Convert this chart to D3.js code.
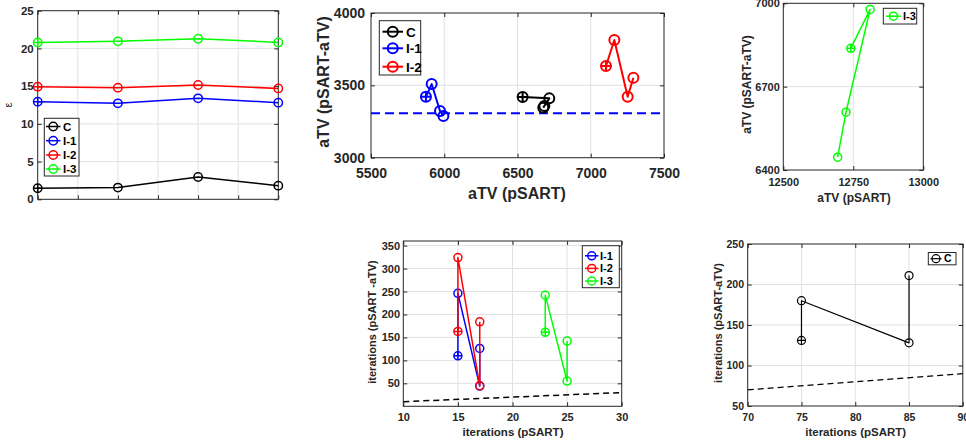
<!DOCTYPE html>
<html>
<head>
<meta charset="utf-8">
<script src="https://cdn.jsdelivr.net/npm/d3@7"></script>
<style>
  body { margin: 0; background: #fff; }
  svg { display: block; font-family: "Liberation Sans", Arial, Helvetica, sans-serif; }
</style>
</head>
<body>
<div id="chart"></div>
<script>
// ---- data ----

// top-left: epsilon per run
const runIdx = [1, 2, 3, 4];
const epsC  = [1.46, 1.55, 2.96, 1.81];
const epsI1 = [12.94, 12.72, 13.38, 12.81];
const epsI2 = [14.93, 14.80, 15.15, 14.70];
const epsI3 = [20.80, 20.94, 21.29, 20.80];

// top-middle / top-right: aTV (pSART) vs aTV (pSART-aTV)
const atvPsartC  = [6535, 6717, 6683, 6676];
const atvHybC    = [3419, 3410, 3357, 3346];
const atvPsartI1 = [5875, 5914, 5971, 5994];
const atvHybI1   = [3421, 3509, 3323, 3288];
const atvPsartI2 = [7104, 7161, 7252, 7291];
const atvHybI2   = [3634, 3813, 3421, 3553];
const atvPsartI3 = [12741, 12810, 12724, 12694];
const atvHybI3   = [6838, 6978, 6608, 6446];
const atvRefLevel = 3307;

// bottom: iterations (pSART) vs iterations (pSART-aTV)
const itPsartI1 = [15, 15, 17, 17];
const itHybI1   = [110, 246, 44, 126];
const itPsartI2 = [15, 15, 17, 17];
const itHybI2   = [163, 324, 45, 184];
const itPsartI3 = [23, 23, 25, 25];
const itHybI3   = [161, 242, 55, 142];
const itPsartC  = [75, 75, 85, 85];
const itHybC    = [131, 180, 128, 211];

const colC = '#000000', colI1 = '#0000ff', colI2 = '#ff0000', colI3 = '#00ff00';
const axisCol = '#262626', gridCol = '#e1e1e1';

const W = 966, H = 442;
const svg = d3.select('#chart').append('svg').attr('width', W).attr('height', H);

function zip(xs, ys) {
  return xs.map((v, i) => ({ x: v, y: ys[i] }));
}

function drawPanel(p) {
  const x = d3.scaleLinear().domain(p.xDomain).range([p.left, p.right]);
  const y = d3.scaleLinear().domain(p.yDomain).range([p.bottom, p.top]);
  const g = svg.append('g');

  // grid
  g.selectAll('line.gx').data(p.xGrid).enter().append('line')
    .attr('class', 'gx')
    .attr('x1', d => x(d)).attr('x2', d => x(d))
    .attr('y1', p.top).attr('y2', p.bottom)
    .attr('stroke', gridCol).attr('stroke-width', 1);
  g.selectAll('line.gy').data(p.yGrid).enter().append('line')
    .attr('class', 'gy')
    .attr('y1', d => y(d)).attr('y2', d => y(d))
    .attr('x1', p.left).attr('x2', p.right)
    .attr('stroke', gridCol).attr('stroke-width', 1);

  // axes (ticks inward, MATLAB style)
  const fmt = d3.format('d');
  const axes = [
    { a: d3.axisBottom(x).tickValues(p.xTicks).tickFormat(p.xLabels ? fmt : ''), t: `translate(0,${p.bottom})`, pad: p.xPad },
    { a: d3.axisTop(x).tickValues(p.xTicks).tickFormat(''), t: `translate(0,${p.top})`, pad: 0 },
    { a: d3.axisLeft(y).tickValues(p.yTicks).tickFormat(fmt), t: `translate(${p.left},0)`, pad: p.yPad },
    { a: d3.axisRight(y).tickValues(p.yTicks).tickFormat(''), t: `translate(${p.right},0)`, pad: 0 },
  ];
  axes.forEach(ax => {
    const sel = g.append('g').attr('transform', ax.t)
      .call(ax.a.tickSizeInner(-4).tickSizeOuter(0).tickPadding(ax.pad));
    sel.select('.domain').remove();
    sel.selectAll('line').attr('stroke', axisCol);
    sel.selectAll('text')
      .attr('fill', axisCol)
      .attr('font-weight', 'bold')
      .attr('font-size', p.tickFont + 'px')
      .attr('font-family', '"Liberation Sans", Arial, sans-serif');
  });

  // box
  g.append('rect')
    .attr('x', p.left).attr('y', p.top)
    .attr('width', p.right - p.left).attr('height', p.bottom - p.top)
    .attr('fill', 'none').attr('stroke', axisCol).attr('stroke-width', 1);

  const clip = 'clip' + Math.round(p.left) + '_' + Math.round(p.top);
  g.append('clipPath').attr('id', clip).append('rect')
    .attr('x', p.left).attr('y', p.top)
    .attr('width', p.right - p.left).attr('height', p.bottom - p.top);
  const plot = g.append('g').attr('clip-path', `url(#${clip})`);

  // reference lines
  if (p.hline) {
    plot.append('line')
      .attr('x1', p.left).attr('x2', p.right)
      .attr('y1', y(p.hline.value)).attr('y2', y(p.hline.value))
      .attr('stroke', p.hline.color).attr('stroke-width', p.hline.width)
      .attr('stroke-dasharray', p.hline.dash);
  }
  if (p.identity) {
    const ends = p.xDomain.map(v => ({ x: v, y: v }));
    plot.append('path')
      .attr('d', d3.line().x(d => x(d.x)).y(d => y(d.y))(ends))
      .attr('fill', 'none')
      .attr('stroke', p.identity.color).attr('stroke-width', p.identity.width)
      .attr('stroke-dasharray', p.identity.dash);
  }

  const line = d3.line().x(d => x(d.x)).y(d => y(d.y));
  p.series.forEach(s => {
    const pts = zip(s.xs, s.ys);
    const sg = g.append('g');
    sg.append('path').attr('d', line(pts))
      .attr('fill', 'none').attr('stroke', s.color).attr('stroke-width', p.lw)
      .attr('stroke-linejoin', 'round');
    sg.selectAll('circle').data(pts).enter().append('circle')
      .attr('cx', d => x(d.x)).attr('cy', d => y(d.y)).attr('r', p.r)
      .attr('fill', 'none').attr('stroke', s.color).attr('stroke-width', p.lw);
    // '+' marker on the starting point
    const s0 = pts[0];
    sg.append('path')
      .attr('d', `M${x(s0.x) - p.r},${y(s0.y)}H${x(s0.x) + p.r}M${x(s0.x)},${y(s0.y) - p.r}V${y(s0.y) + p.r}`)
      .attr('stroke', s.color).attr('stroke-width', p.lw);
  });

  // axis labels
  if (p.xLabel) {
    g.append('text').attr('x', p.xLabel.x).attr('y', p.xLabel.y)
      .attr('text-anchor', 'middle').attr('fill', axisCol)
      .attr('font-weight', 'bold').attr('font-size', p.xLabel.size + 'px')
      .text(p.xLabel.text);
  }
  if (p.yLabel) {
    g.append('text')
      .attr('transform', `translate(${p.yLabel.x},${p.yLabel.y}) rotate(-90)`)
      .attr('text-anchor', 'middle').attr('fill', axisCol)
      .attr('font-weight', p.yLabel.weight || 'bold').attr('font-size', p.yLabel.size + 'px')
      .text(p.yLabel.text);
  }

  // legend
  const L = p.legend;
  const lg = g.append('g');
  lg.append('rect').attr('x', L.x0).attr('y', L.y0)
    .attr('width', L.x1 - L.x0).attr('height', L.y1 - L.y0)
    .attr('fill', '#fff').attr('stroke', axisCol).attr('stroke-width', 1);
  p.series.forEach((s, i) => {
    const ry = L.rows[i];
    const cx = (L.lx0 + L.lx1) / 2;
    lg.append('line').attr('x1', L.lx0).attr('x2', L.lx1).attr('y1', ry).attr('y2', ry)
      .attr('stroke', s.color).attr('stroke-width', p.lw);
    lg.append('circle').attr('cx', cx).attr('cy', ry).attr('r', p.r)
      .attr('fill', 'none').attr('stroke', s.color).attr('stroke-width', p.lw);
    lg.append('text').attr('x', L.tx).attr('y', ry).attr('dy', '0.36em')
      .attr('font-weight', 'bold').attr('font-size', L.size + 'px').attr('fill', '#000')
      .text(s.name);
  });
}

// ---- panel 1: epsilon ----
drawPanel({
  left: 37.7, right: 278.3, top: 10.7, bottom: 199.3,
  xDomain: [1, 4], yDomain: [0, 25],
  xTicks: d3.range(1, 4.01, 0.5), yTicks: [0, 5, 10, 15, 20, 25],
  xGrid: d3.range(1.5, 4, 0.5), yGrid: [5, 10, 15, 20],
  xLabels: false, xPad: 8, yPad: 4, tickFont: 11.5,
  lw: 1.5, r: 4.2,
  series: [
    { name: 'C', color: colC, xs: runIdx, ys: epsC },
    { name: 'I-1', color: colI1, xs: runIdx, ys: epsI1 },
    { name: 'I-2', color: colI2, xs: runIdx, ys: epsI2 },
    { name: 'I-3', color: colI3, xs: runIdx, ys: epsI3 },
  ],
  yLabel: { text: 'ε', x: 12, y: 105, size: 11, weight: 'normal' },
  legend: { x0: 44.3, y0: 118.3, x1: 79, y1: 176, lx0: 46, lx1: 60.5, tx: 63, size: 11.5,
            rows: [126.5, 140.7, 155, 169] },
});

// ---- panel 2: aTV C / I-1 / I-2 ----
drawPanel({
  left: 371, right: 664, top: 13, bottom: 157.7,
  xDomain: [5500, 7500], yDomain: [3000, 4000],
  xTicks: [5500, 6000, 6500, 7000, 7500], yTicks: [3000, 3500, 4000],
  xGrid: [6000, 6500, 7000], yGrid: [3500],
  xLabels: true, xPad: 10.5, yPad: 6, tickFont: 14,
  lw: 2, r: 5,
  hline: { value: atvRefLevel, color: colI1, width: 2, dash: '9,5' },
  series: [
    { name: 'C', color: colC, xs: atvPsartC, ys: atvHybC },
    { name: 'I-1', color: colI1, xs: atvPsartI1, ys: atvHybI1 },
    { name: 'I-2', color: colI2, xs: atvPsartI2, ys: atvHybI2 },
  ],
  xLabel: { text: 'aTV (pSART)', x: 517, y: 199, size: 16 },
  yLabel: { text: 'aTV (pSART-aTV)', x: 329, y: 82, size: 16 },
  legend: { x0: 379.3, y0: 20.7, x1: 420.7, y1: 75, lx0: 382.5, lx1: 403, tx: 406, size: 13.5,
            rows: [31.7, 48.3, 66.7] },
});

// ---- panel 3: aTV I-3 ----
drawPanel({
  left: 783.3, right: 923.3, top: 3.3, bottom: 170,
  xDomain: [12500, 13000], yDomain: [6400, 7000],
  xTicks: [12500, 12750, 13000], yTicks: [6400, 6700, 7000],
  xGrid: [12750], yGrid: [6700],
  xLabels: true, xPad: 8, yPad: 3.5, tickFont: 11,
  lw: 1.5, r: 4,
  series: [
    { name: 'I-3', color: colI3, xs: atvPsartI3, ys: atvHybI3 },
  ],
  xLabel: { text: 'aTV (pSART)', x: 854, y: 201.5, size: 12 },
  yLabel: { text: 'aTV (pSART-aTV)', x: 751, y: 84.5, size: 12 },
  legend: { x0: 883.3, y0: 8.3, x1: 916.7, y1: 24, lx0: 886, lx1: 901, tx: 903, size: 11,
            rows: [16.2] },
});

// ---- panel 4: iterations I-1 / I-2 / I-3 ----
drawPanel({
  left: 403.3, right: 621.7, top: 241, bottom: 406.3,
  xDomain: [10, 30], yDomain: [0, 360],
  xTicks: [10, 15, 20, 25, 30], yTicks: [50, 100, 150, 200, 250, 300, 350],
  xGrid: [15, 20, 25], yGrid: [50, 100, 150, 200, 250, 300, 350],
  xLabels: true, xPad: 7, yPad: 3.3, tickFont: 11,
  lw: 1.5, r: 4,
  identity: { color: '#000', width: 1.5, dash: '6,4' },
  series: [
    { name: 'I-1', color: colI1, xs: itPsartI1, ys: itHybI1 },
    { name: 'I-2', color: colI2, xs: itPsartI2, ys: itHybI2 },
    { name: 'I-3', color: colI3, xs: itPsartI3, ys: itHybI3 },
  ],
  xLabel: { text: 'iterations (pSART)', x: 513, y: 435.5, size: 11.5 },
  yLabel: { text: 'iterations (pSART -aTV)', x: 376, y: 322, size: 11 },
  legend: { x0: 582.3, y0: 245.7, x1: 619.3, y1: 287.7, lx0: 585, lx1: 598.5, tx: 600, size: 11,
            rows: [255.8, 268.4, 281] },
});

// ---- panel 5: iterations C ----
drawPanel({
  left: 747.7, right: 962.8, top: 244, bottom: 406,
  xDomain: [70, 90], yDomain: [50, 250],
  xTicks: [70, 75, 80, 85, 90], yTicks: [50, 100, 150, 200, 250],
  xGrid: [75, 80, 85], yGrid: [100, 150, 200],
  xLabels: true, xPad: 8, yPad: 3.7, tickFont: 10.5,
  lw: 1.2, r: 4,
  identity: { color: '#000', width: 1.2, dash: '6,4' },
  series: [
    { name: 'C', color: colC, xs: itPsartC, ys: itHybC },
  ],
  xLabel: { text: 'iterations (pSART)', x: 855.7, y: 435.8, size: 11.5 },
  yLabel: { text: 'iterations (pSART-aTV)', x: 722, y: 323, size: 11 },
  legend: { x0: 928.3, y0: 252.5, x1: 956, y1: 264.8, lx0: 930.5, lx1: 941.5, tx: 944, size: 10.5,
            rows: [258.7] },
});
</script>
</body>
</html>
